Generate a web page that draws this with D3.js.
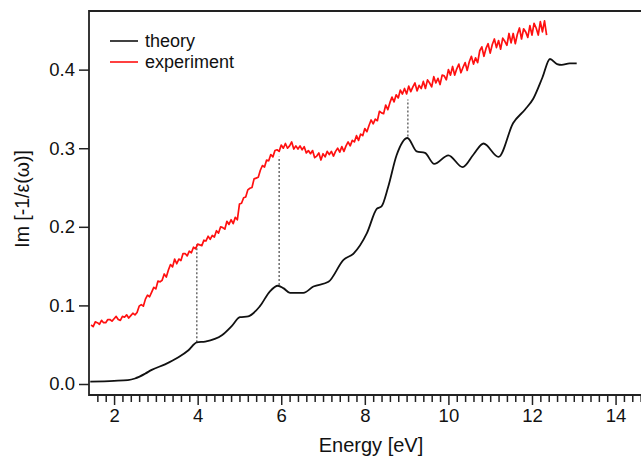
<!DOCTYPE html>
<html>
<head>
<meta charset="utf-8">
<script src="https://cdn.jsdelivr.net/npm/d3@7"></script>
<style>
  html, body { margin: 0; padding: 0; background: #fff; }
  svg { display: block; font-family: Arial, "Liberation Sans", sans-serif; }
</style>
</head>
<body>
<svg id="chart" width="641" height="458"></svg>
<script>
// Loss function Im[-1/eps(w)]: calculated spectrum
const theoryEnergy = [1.43, 2.0, 2.33, 2.5, 2.74, 2.9, 3.22, 3.54, 3.78, 3.98, 4.18, 4.58, 4.82, 5.01,
  5.21, 5.49, 5.73, 5.92, 6.05, 6.21, 6.53, 6.77, 7.13, 7.49, 7.73, 8.05, 8.29, 8.40, 8.56, 8.76,
  9.02, 9.24, 9.44, 9.66, 10.0, 10.34, 10.6, 10.84, 11.2, 11.55, 11.83, 12.03, 12.25, 12.43, 12.6,
  12.71, 12.9, 13.07];
const theoryValue = [0.003, 0.004, 0.005, 0.007, 0.013, 0.018, 0.025, 0.034, 0.043, 0.053, 0.054, 0.062,
  0.074, 0.085, 0.086, 0.099, 0.118, 0.125, 0.122, 0.116, 0.116, 0.124, 0.130, 0.158, 0.166, 0.192,
  0.223, 0.226, 0.251, 0.291, 0.313, 0.296, 0.294, 0.280, 0.291, 0.276, 0.292, 0.306, 0.289, 0.332,
  0.349, 0.363, 0.390, 0.4135, 0.407, 0.406, 0.408, 0.408];

// Measured spectrum, sampled every 0.05 eV from 1.45 eV
const expStart = 1.45;
const expStep = 0.05;
const expValue = [
  0.075, 0.073, 0.079, 0.078, 0.076, 0.081, 0.078, 0.078, 0.082, 0.082,
  0.080, 0.083, 0.086, 0.082, 0.081, 0.086, 0.085, 0.088, 0.084, 0.087,
  0.090, 0.088, 0.091, 0.099, 0.101, 0.099, 0.108, 0.113, 0.111, 0.117,
  0.123, 0.121, 0.131, 0.130, 0.132, 0.140, 0.136, 0.145, 0.152, 0.149,
  0.159, 0.153, 0.159, 0.157, 0.166, 0.166, 0.163, 0.169, 0.167, 0.174,
  0.172, 0.178, 0.177, 0.176, 0.183, 0.182, 0.188, 0.184, 0.189, 0.187,
  0.195, 0.192, 0.200, 0.199, 0.197, 0.207, 0.203, 0.209, 0.204, 0.212,
  0.209, 0.229, 0.230, 0.237, 0.238, 0.247, 0.249, 0.250, 0.261, 0.262,
  0.263, 0.272, 0.278, 0.276, 0.285, 0.284, 0.292, 0.289, 0.297, 0.298,
  0.296, 0.304, 0.300, 0.306, 0.300, 0.303, 0.308, 0.299, 0.303, 0.299,
  0.303, 0.298, 0.302, 0.294, 0.297, 0.293, 0.297, 0.288, 0.290, 0.294,
  0.285, 0.293, 0.289, 0.296, 0.292, 0.296, 0.290, 0.296, 0.300, 0.295,
  0.302, 0.296, 0.303, 0.308, 0.303, 0.310, 0.308, 0.316, 0.310, 0.318,
  0.316, 0.325, 0.321, 0.329, 0.336, 0.331, 0.337, 0.335, 0.347, 0.345,
  0.344, 0.355, 0.349, 0.358, 0.365, 0.359, 0.368, 0.364, 0.374, 0.369,
  0.376, 0.369, 0.379, 0.372, 0.378, 0.383, 0.373, 0.380, 0.376, 0.385,
  0.376, 0.387, 0.383, 0.378, 0.391, 0.383, 0.389, 0.381, 0.393, 0.392,
  0.387, 0.400, 0.393, 0.404, 0.393, 0.401, 0.407, 0.396, 0.403, 0.409,
  0.399, 0.410, 0.417, 0.407, 0.415, 0.409, 0.424, 0.429, 0.417, 0.427,
  0.433, 0.421, 0.432, 0.439, 0.428, 0.437, 0.426, 0.440, 0.436, 0.431,
  0.446, 0.434, 0.446, 0.433, 0.445, 0.453, 0.439, 0.452, 0.448, 0.441,
  0.456, 0.444, 0.459, 0.453, 0.444, 0.461, 0.448, 0.462, 0.444
];

// Features marked across both spectra: energy, theory value, experiment value
const markerEnergy = [3.98, 5.95, 9.03];
const markerLow = [0.053, 0.126, 0.315];
const markerHigh = [0.179, 0.289, 0.362];

const yTicks = [0.0, 0.1, 0.2, 0.3, 0.4];
const xMajorTicks = [2, 4, 6, 8, 10, 12, 14];

const seriesNames = ["theory", "experiment"];
const seriesColors = ["#111111", "#ff1010"];

const svg = d3.select("#chart");
const plotLeft = 89, plotRight = 649, plotTop = 11, plotBottom = 395;

const x = d3.scaleLinear().domain([1.4, 14.8]).range([plotLeft, plotRight]);
const y = d3.scaleLinear().domain([-0.014, 0.4746]).range([plotBottom, plotTop]);

const theoryData = theoryEnergy.map((e, i) => [e, theoryValue[i]]);
const expData = expValue.map((v, i) => [expStart + i * expStep, v]);

// dotted guide lines
svg.append("g").selectAll("line").data(markerEnergy).join("line")
  .attr("x1", d => x(d)).attr("x2", d => x(d))
  .attr("y1", (d, i) => y(markerLow[i])).attr("y2", (d, i) => y(markerHigh[i]))
  .attr("stroke", "#555").attr("stroke-width", 1.3).attr("stroke-dasharray", "2,2");

// experiment
svg.append("path").datum(expData)
  .attr("fill", "none").attr("stroke", seriesColors[1]).attr("stroke-width", 1.7)
  .attr("stroke-linejoin", "round")
  .attr("d", d3.line().x(d => x(d[0])).y(d => y(d[1])));

// theory
svg.append("path").datum(theoryData)
  .attr("fill", "none").attr("stroke", seriesColors[0]).attr("stroke-width", 1.8)
  .attr("d", d3.line().curve(d3.curveMonotoneX).x(d => x(d[0])).y(d => y(d[1])));

// frame: left, bottom, top
const axisColor = "#222";
svg.append("path")
  .attr("d", `M${plotRight + 10},${plotTop}H${plotLeft}V${plotBottom}H${plotRight + 10}`)
  .attr("fill", "none").attr("stroke", axisColor).attr("stroke-width", 1.8);

// x axis: minor ticks every 0.2 eV, labelled major ticks every 2 eV
const xMinor = d3.range(8, 74).map(k => k / 5).filter(v => !xMajorTicks.includes(v));
svg.append("g").attr("transform", `translate(0,${plotBottom})`)
  .call(d3.axisBottom(x).tickValues(xMinor).tickSize(7).tickFormat(""))
  .call(g => g.select(".domain").remove())
  .call(g => g.selectAll("line").attr("stroke", axisColor).attr("stroke-width", 1.5));

svg.append("g").attr("transform", `translate(0,${plotBottom})`)
  .call(d3.axisBottom(x).tickValues(xMajorTicks).tickSize(10).tickPadding(4).tickFormat(d3.format("d")))
  .call(g => g.select(".domain").remove())
  .call(g => g.selectAll("line").attr("stroke", axisColor).attr("stroke-width", 1.5))
  .call(g => g.selectAll("text").attr("fill", "#111").attr("font-size", 18.5)
    .attr("font-family", "Arial, 'Liberation Sans', sans-serif"));

// y axis
svg.append("g").attr("transform", `translate(${plotLeft},0)`)
  .call(d3.axisLeft(y).tickValues(yTicks).tickSize(10).tickPadding(4).tickFormat(d3.format(".1f")))
  .call(g => g.select(".domain").remove())
  .call(g => g.selectAll("line").attr("stroke", axisColor).attr("stroke-width", 1.5))
  .call(g => g.selectAll("text").attr("fill", "#111").attr("font-size", 18.5)
    .attr("font-family", "Arial, 'Liberation Sans', sans-serif"));

// axis titles
svg.append("text")
  .attr("x", 371).attr("y", 452).attr("text-anchor", "middle")
  .attr("font-size", 20).attr("fill", "#111").text("Energy [eV]");

svg.append("text")
  .attr("transform", "translate(29,199) rotate(-90)").attr("text-anchor", "middle")
  .attr("font-size", 19.5).attr("fill", "#111").text("Im [-1/ε(ω)]");

// legend
const legend = svg.append("g");
seriesNames.forEach((name, i) => {
  const ly = 41 + i * 21;
  legend.append("line").attr("x1", 110).attr("x2", 138).attr("y1", ly).attr("y2", ly)
    .attr("stroke", seriesColors[i]).attr("stroke-width", 1.6);
  legend.append("text").attr("x", 145).attr("y", ly + 6)
    .attr("font-size", 18).attr("fill", "#111").text(name);
});
</script>
</body>
</html>
